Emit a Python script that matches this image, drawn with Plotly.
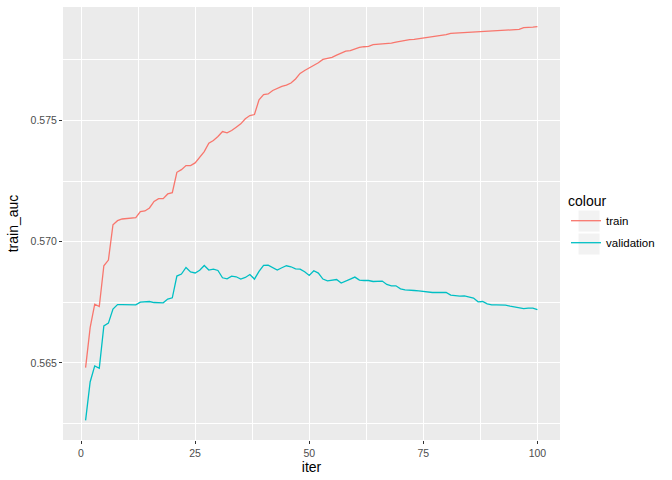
import plotly.graph_objects as go

iters = list(range(1, 101))

train_auc = [
    0.564806, 0.566459, 0.567426, 0.567326, 0.569008, 0.569244, 0.570702, 0.570868, 0.570938, 0.570950,
    0.570950, 0.570992, 0.571240, 0.571269, 0.571393, 0.571665, 0.571777, 0.571777, 0.571971, 0.572025,
    0.572864, 0.572975, 0.573140, 0.573140, 0.573252, 0.573492, 0.573719, 0.574062, 0.574174, 0.574339,
    0.574545, 0.574492, 0.574587, 0.574723, 0.574864, 0.575070, 0.575207, 0.575248, 0.575855, 0.576074,
    0.576095, 0.576240, 0.576335, 0.576405, 0.576459, 0.576550, 0.576715, 0.576942, 0.577066, 0.577169,
    0.577285, 0.577384, 0.577521, 0.577562, 0.577603, 0.577698, 0.577798, 0.577864, 0.577880, 0.577963,
    0.578017, 0.578045, 0.578058, 0.578128, 0.578140, 0.578153, 0.578153, 0.578194, 0.578236, 0.578277,
    0.578318, 0.578335, 0.578347, 0.578376, 0.578388, 0.578417, 0.578442, 0.578471, 0.578500, 0.578541,
    0.578595, 0.578607, 0.578624, 0.578636, 0.578649, 0.578665, 0.578678, 0.578690, 0.578707, 0.578719,
    0.578727, 0.578731, 0.578740, 0.578748, 0.578752, 0.578760, 0.578831, 0.578855, 0.578855, 0.578872,
]

validation_auc = [
    0.562632, 0.564215, 0.564876, 0.564781, 0.566529, 0.566640, 0.567219, 0.567409, 0.567409, 0.567409,
    0.567397, 0.567397, 0.567508, 0.567521, 0.567533, 0.567492, 0.567492, 0.567479, 0.567632, 0.567686,
    0.568583, 0.568665, 0.568938, 0.568752, 0.568711, 0.568822, 0.569021, 0.568831, 0.568872, 0.568814,
    0.568512, 0.568471, 0.568583, 0.568554, 0.568459, 0.568525, 0.568649, 0.568459, 0.568773, 0.569021,
    0.569037, 0.568938, 0.568831, 0.568926, 0.569008, 0.568967, 0.568884, 0.568872, 0.568760, 0.568607,
    0.568802, 0.568707, 0.568459, 0.568388, 0.568401, 0.568442, 0.568293, 0.568360, 0.568459, 0.568541,
    0.568417, 0.568401, 0.568401, 0.568360, 0.568360, 0.568376, 0.568236, 0.568182, 0.568182, 0.568058,
    0.568017, 0.567988, 0.567988, 0.567975, 0.567946, 0.567934, 0.567905, 0.567905, 0.567905, 0.567905,
    0.567798, 0.567769, 0.567756, 0.567769, 0.567727, 0.567674, 0.567521, 0.567533, 0.567438, 0.567397,
    0.567397, 0.567397, 0.567384, 0.567343, 0.567314, 0.567302, 0.567244, 0.567260, 0.567260, 0.567202,
]

series_names = ["train", "validation"]
series_colors = ["#F8766D", "#00BFC4"]
x_ticks = [0, 25, 50, 75, 100]
y_ticks = [0.565, 0.570, 0.575]
y_tick_labels = ["0.565", "0.570", "0.575"]

FONT = "Liberation Sans, Arial, Helvetica, sans-serif"

fig = go.Figure()
for name, vals, col in zip(series_names, [train_auc, validation_auc], series_colors):
    fig.add_trace(go.Scatter(x=iters, y=vals, mode="lines", name=name,
                             legendgroup=name,
                             line=dict(color=col, width=1.3)))

# ggplot-like 5% expansion
xmin, xmax = min(iters), max(iters)
allv = train_auc + validation_auc
ymin, ymax = min(allv), max(allv)
xpad = (xmax - xmin) * 0.05
ypad = (ymax - ymin) * 0.05

L, R, T, B = 63, 112, 7, 40
W, H = 672, 480
pw, ph = W - L - R, H - T - B

def px2paper_x(px):
    return (px - L) / pw

def px2paper_y(py):
    return (H - B - py) / ph

# legend key backgrounds (ggplot style)
shapes = []
for (top, bot) in [(210, 232), (233, 255)]:
    shapes.append(dict(type="rect", xref="paper", yref="paper",
                       x0=px2paper_x(578), x1=px2paper_x(600),
                       y0=px2paper_y(bot), y1=px2paper_y(top),
                       fillcolor="#F2F2F2", line=dict(color="white", width=1),
                       layer="below"))

fig.update_layout(
    width=W, height=H,
    margin=dict(l=L, r=R, t=T, b=B, pad=0, autoexpand=False),
    paper_bgcolor="white",
    plot_bgcolor="#EBEBEB",
    font=dict(family=FONT, size=11, color="black"),
    showlegend=True,
    legend=dict(
        title=dict(text="colour", font=dict(size=14, color="black")),
        x=px2paper_x(566), xanchor="left",
        y=px2paper_y(188), yanchor="top",
        bgcolor="rgba(0,0,0,0)",
        font=dict(size=11.5, color="black"),
        tracegroupgap=3,
        traceorder="grouped",
    ),
    shapes=shapes,
    xaxis=dict(
        range=[xmin - xpad, xmax + xpad],
        tickmode="array", tickvals=x_ticks, ticktext=[str(v) for v in x_ticks],
        showgrid=True, gridcolor="white", gridwidth=1.1,
        zeroline=False, showline=False,
        ticks="outside", ticklen=3, tickcolor="#333333", tickwidth=1,
        tickfont=dict(size=10.5, color="#4D4D4D"),
        minor=dict(tickmode="array", tickvals=[12.5, 37.5, 62.5, 87.5],
                   showgrid=True, gridcolor="white", gridwidth=0.5, ticks=""),
        title=dict(text="iter", font=dict(size=14, color="black"), standoff=4),
    ),
    yaxis=dict(
        range=[ymin - ypad, ymax + ypad],
        tickmode="array", tickvals=y_ticks, ticktext=y_tick_labels,
        showgrid=True, gridcolor="white", gridwidth=1.1,
        zeroline=False, showline=False,
        ticks="outside", ticklen=3, tickcolor="#333333", tickwidth=1,
        tickfont=dict(size=10.5, color="#4D4D4D"),
        minor=dict(tickmode="array", tickvals=[0.5625, 0.5675, 0.5725, 0.5775],
                   showgrid=True, gridcolor="white", gridwidth=0.5, ticks=""),
        title=dict(text="train_auc", font=dict(size=14, color="black"), standoff=8),
    ),
)

fig.write_html("out.html", config={"displayModeBar": False},
               post_script="document.body.style.margin='0';document.body.style.padding='0';")
